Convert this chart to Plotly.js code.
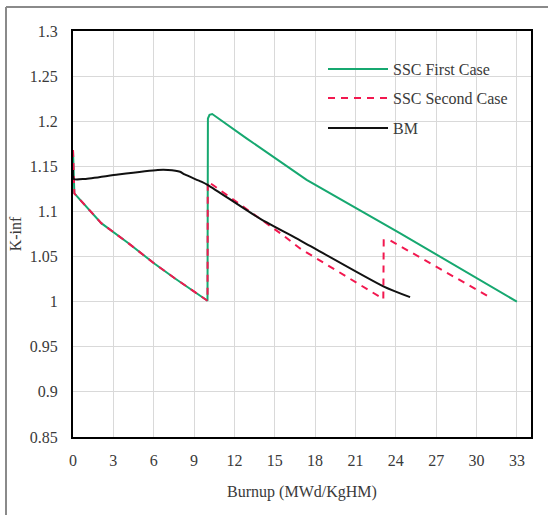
<!DOCTYPE html>
<html>
<head>
<meta charset="utf-8">
<script src="https://cdn.plot.ly/plotly-3.0.1.min.js"></script>
<style>html,body{margin:0;padding:0;background:#fff;}#chart{width:548px;height:515px;}</style>
</head>
<body>
<div id="chart"></div>
<script>
// Burnup (MWd/KgHM) and K-inf values
const firstX  = [0, 0.1, 2.1, 4.1, 6.07, 7.56, 10.0, 10.03, 10.15, 10.35, 12.9, 17.37, 24.3, 33.0];
const firstY  = [1.168, 1.120, 1.087, 1.065, 1.042, 1.026, 1.001, 1.203, 1.207, 1.208, 1.181, 1.135, 1.076, 1.0];

const secondX = [0, 0.1, 2.1, 4.1, 6.07, 7.56, 10.0, 10.02, 10.43, 15.4, 16.88, 23.05, 23.07, 23.1, 23.57, 31.1];
const secondY = [1.168, 1.120, 1.087, 1.065, 1.042, 1.026, 1.001, 1.133, 1.129, 1.076, 1.059, 1.003, 1.003, 1.068, 1.068, 1.004];

const bmX = [0, 0.05, 0.87, 3.35, 6.3, 7.06, 7.96, 8.3, 9.54, 10.06, 13.9, 16.88, 23.07, 25.06];
const bmY = [1.146, 1.136, 1.136, 1.141, 1.146, 1.146, 1.144, 1.141, 1.133, 1.129, 1.092, 1.068, 1.017, 1.005];

const xTicks = [0, 3, 6, 9, 12, 15, 18, 21, 24, 27, 30, 33];
const seriesNames = ['SSC First Case', 'SSC Second Case', 'BM'];

const font = "'Liberation Serif', 'Times New Roman', serif";
const txt = '#3a3a3a';

const traces = [
  {x: firstX, y: firstY, name: seriesNames[0], mode: 'lines', legend: 'legend',
   line: {color: '#16a870', width: 2}},
  {x: secondX, y: secondY, name: seriesNames[1], mode: 'lines', legend: 'legend2',
   line: {color: '#f2184f', width: 2, dash: '7px,6px'}},
  {x: bmX, y: bmY, name: seriesNames[2], mode: 'lines', legend: 'legend3',
   line: {color: '#111111', width: 2, shape: 'spline', smoothing: 0.6}}
];

function leg(py) {
  return {x: (323 - 73) / 458, y: (437 - py) / 406, xanchor: 'left', yanchor: 'middle',
          bgcolor: 'rgba(0,0,0,0)', borderwidth: 0, itemwidth: 60,
          font: {family: font, size: 16, color: txt}};
}

const layout = {
  width: 548, height: 515,
  margin: {l: 73, r: 17, t: 31, b: 78},
  paper_bgcolor: '#ffffff', plot_bgcolor: '#ffffff',
  font: {family: font, size: 16, color: txt},
  showlegend: true,
  legend: leg(69), legend2: leg(98), legend3: leg(128),
  xaxis: {
    range: [0, 34.05], tickvals: xTicks, ticktext: xTicks.map(String),
    showgrid: true, gridcolor: '#d9d9d9', gridwidth: 1,
    showline: true, mirror: true, linecolor: '#000', linewidth: 2,
    zeroline: false, ticks: 'outside', ticklen: 8, tickcolor: 'rgba(0,0,0,0)',
    tickfont: {family: font, size: 16, color: txt},
    title: {text: 'Burnup (MWd/KgHM)', font: {family: font, size: 16, color: txt}, standoff: 18}
  },
  yaxis: {
    range: [0.85, 1.3], dtick: 0.05, tick0: 0.85,
    showgrid: true, gridcolor: '#d9d9d9', gridwidth: 1,
    showline: true, mirror: true, linecolor: '#000', linewidth: 2,
    zeroline: false, ticks: 'outside', ticklen: 10, tickcolor: 'rgba(0,0,0,0)',
    tickfont: {family: font, size: 16, color: txt},
    title: {text: 'K-inf', font: {family: font, size: 16, color: txt}, standoff: 4}
  },
  shapes: [
    {type: 'line', xref: 'paper', yref: 'paper', x0: (6 - 73) / 458, x1: (6 - 73) / 458,
     y0: (437 - 7) / 406, y1: (437 - 515) / 406, line: {color: '#8a8a8a', width: 2}},
    {type: 'line', xref: 'paper', yref: 'paper', x0: (6 - 73) / 458, x1: (548 - 73) / 458,
     y0: (437 - 7) / 406, y1: (437 - 7) / 406, line: {color: '#8a8a8a', width: 2}}
  ]
};

Plotly.newPlot('chart', traces, layout, {displayModeBar: false, staticPlot: true});
</script>
</body>
</html>
